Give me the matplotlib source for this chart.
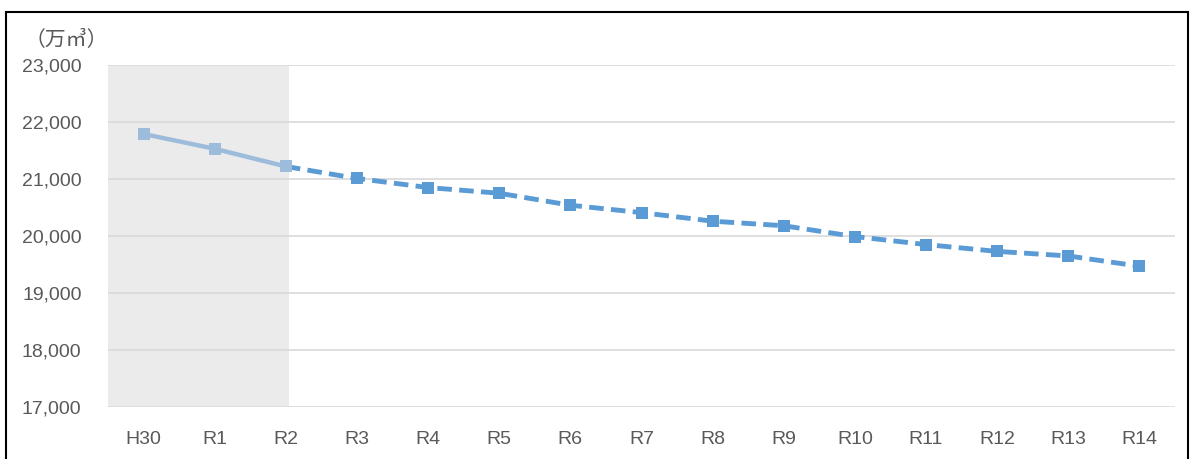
import matplotlib
matplotlib.use("Agg")
import matplotlib.pyplot as plt
from matplotlib.patches import Rectangle

plt.rcParams['font.family'] = ['Liberation Sans', 'Noto Sans CJK JP', 'DejaVu Sans']

categories = ["H30", "R1", "R2", "R3", "R4", "R5", "R6", "R7", "R8", "R9",
              "R10", "R11", "R12", "R13", "R14"]
values = [21790, 21530, 21220, 21010, 20850, 20750, 20540, 20410, 20260,
          20180, 19990, 19850, 19730, 19650, 19470]
actual_count = 3  # H30..R2 actual, rest projected
y_ticks = [17000, 18000, 19000, 20000, 21000, 22000, 23000]
unit_label = "（万㎥）"

W, H = 1190, 459
fig = plt.figure(figsize=(W / 100, H / 100), dpi=100)
ax = fig.add_axes([108 / W, 1 - 407 / H, (1175 - 108) / W, (407 - 65) / H])

x = list(range(len(categories)))
text_color = "#595959"

# shaded actual period
ax.axvspan(-0.5, actual_count - 1 + 0.05, color="#ebebeb", zorder=0, lw=0)

# grid
for t in y_ticks:
    ax.axhline(t, color="#d9d9d9", lw=1.2, zorder=1)

# projected dashed line
ax.plot(x[actual_count - 1:], values[actual_count - 1:], color="#5b9bd5",
        lw=3.5, ls=(0, (3.0, 1.5)), marker="s", markersize=8.5,
        markeredgewidth=0, zorder=3)
# actual solid line
ax.plot(x[:actual_count], values[:actual_count], color="#9dbcdb", lw=3.2,
        marker="s", markersize=8.5, markeredgewidth=0, zorder=4)

ax.set_xlim(-0.5, len(categories) - 0.5)
ax.set_ylim(y_ticks[0], y_ticks[-1])
ax.set_xticks(x)
ax.set_xticklabels(categories)
ax.set_yticks(y_ticks)
ax.set_yticklabels([f"{v:,}" for v in y_ticks])
ax.tick_params(axis="both", length=0, labelsize=14, colors=text_color)
ax.tick_params(axis="x", pad=17)
ax.tick_params(axis="y", pad=19)
for s in ax.spines.values():
    s.set_visible(False)

fig.text(25 / W, 1 - 40 / H, unit_label, fontsize=15, color=text_color,
         va="center", ha="left", family=['Noto Sans CJK JP', 'DejaVu Sans'])

# outer frame
fig.patches.append(Rectangle((6 / W, -0.05), (1188 - 6) / W, 1 - 12 / H + 0.05,
                             transform=fig.transFigure, fill=False,
                             edgecolor="black", lw=1.5))

fig.savefig("out.png", dpi=100)
